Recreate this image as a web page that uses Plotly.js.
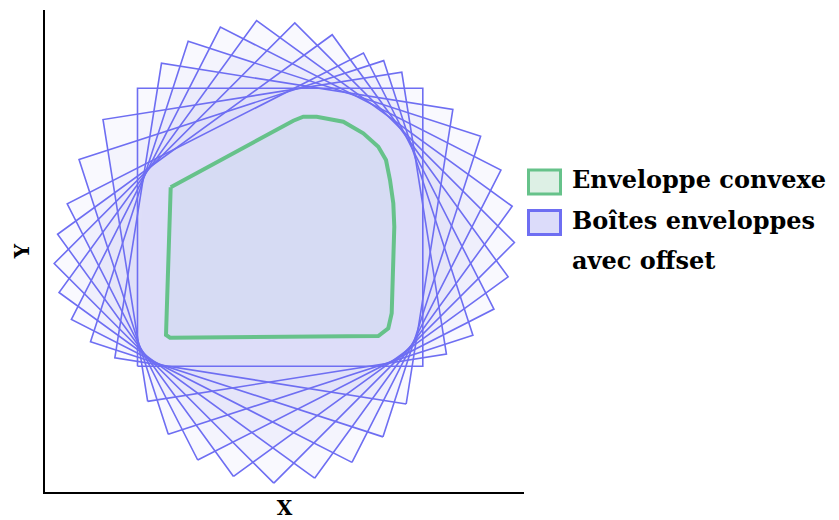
<!DOCTYPE html>
<html>
<head>
<meta charset="utf-8">
<script src="https://cdn.plot.ly/plotly-3.0.1.min.js"></script>
<style>html,body{margin:0;padding:0;background:#fff;}#chart{width:839px;height:520px;}</style>
</head>
<body>
<div id="chart"></div>
<script>
// Convex hull vertices (data units)
const hullX = [125.7, 248.3, 258.3, 271.7, 298.3, 318.3, 333.3, 341, 345, 348.3, 349.3, 346.7, 343.3, 333.3, 125, 121];
const hullY = [304.7, 371.3, 375.3, 375.3, 370.3, 358.7, 345.3, 332, 312, 288.7, 265.3, 178.7, 163.7, 156, 154.3, 157];
// Offset distance and rotation angles of the bounding boxes
const offsetRadius = 28.5;
const boxAnglesDeg = [0, 9, 18, 27, 36, 45, 54, 63, 72, 81];
// Legend labels and axis titles
const legendLabels = ["Enveloppe convexe", "Boîtes enveloppes", "avec offset"];
const axisTitles = {x: "X", y: "Y"};

const BLUE = "rgb(110,110,242)";
const GREEN = "rgb(102,194,138)";
const FONT = "DejaVu Serif";

function boxCorners(deg) {
  const t = deg * Math.PI / 180;
  const ux = Math.cos(t), uy = Math.sin(t), vx = -Math.sin(t), vy = Math.cos(t);
  let minU = Infinity, maxU = -Infinity, minV = Infinity, maxV = -Infinity;
  for (let i = 0; i < hullX.length; i++) {
    const pu = hullX[i] * ux + hullY[i] * uy;
    const pv = hullX[i] * vx + hullY[i] * vy;
    minU = Math.min(minU, pu); maxU = Math.max(maxU, pu);
    minV = Math.min(minV, pv); maxV = Math.max(maxV, pv);
  }
  const r = offsetRadius;
  const ab = [[minU - r, minV - r], [maxU + r, minV - r], [maxU + r, maxV + r], [minU - r, maxV + r], [minU - r, minV - r]];
  return {x: ab.map(p => p[0] * ux + p[1] * vx), y: ab.map(p => p[0] * uy + p[1] * vy)};
}

function offsetRegion() {
  const xs = [], ys = [];
  const n = 1440;
  for (let k = 0; k <= n; k++) {
    const t = 2 * Math.PI * k / n;
    const ux = Math.cos(t), uy = Math.sin(t);
    let best = -Infinity, bi = 0;
    for (let i = 0; i < hullX.length; i++) {
      const d = hullX[i] * ux + hullY[i] * uy;
      if (d > best) { best = d; bi = i; }
    }
    xs.push(hullX[bi] + offsetRadius * ux);
    ys.push(hullY[bi] + offsetRadius * uy);
  }
  return {x: xs, y: ys};
}

const traces = [];
const off = offsetRegion();
traces.push({type: "scatter", mode: "lines", x: off.x, y: off.y, fill: "toself",
  fillcolor: "rgba(215,215,250,0.15)", line: {width: 0, color: "rgba(0,0,0,0)"},
  hoverinfo: "skip", showlegend: false});
const boxes = boxAnglesDeg.map(boxCorners);
boxes.forEach(c => {
  traces.push({type: "scatter", mode: "lines", x: c.x, y: c.y, fill: "toself",
    fillcolor: "rgba(215,215,250,0.16)", line: {width: 0, color: "rgba(0,0,0,0)"},
    hoverinfo: "skip", showlegend: false});
});
boxes.forEach(c => {
  traces.push({type: "scatter", mode: "lines", x: c.x, y: c.y,
    line: {color: BLUE, width: 1.6}, hoverinfo: "skip", showlegend: false});
});
traces.push({type: "scatter", mode: "lines", x: hullX.concat([hullX[0]]), y: hullY.concat([hullY[0]]),
  fill: "toself", fillcolor: "rgba(102,194,138,0.05)", line: {color: GREEN, width: 4},
  hoverinfo: "skip", showlegend: false});

const layout = {
  width: 839, height: 520,
  margin: {l: 45, r: 315, t: 10, b: 28},
  paper_bgcolor: "#fff", plot_bgcolor: "#fff",
  showlegend: false,
  xaxis: {range: [0, 479], showgrid: false, zeroline: false, showticklabels: false, ticks: "",
    showline: true, linecolor: "#000", linewidth: 2,
    title: {text: "<b>" + axisTitles.x + "</b>", font: {family: FONT, size: 20, color: "#000"}, standoff: 13}},
  yaxis: {range: [0, 482], showgrid: false, zeroline: false, showticklabels: false, ticks: "",
    showline: true, linecolor: "#000", linewidth: 2,
    title: {text: "<b>" + axisTitles.y + "</b>", font: {family: FONT, size: 20, color: "#000"}, standoff: 8}},
  shapes: [
    {type: "rect", xref: "paper", yref: "paper", x0: (528.5 - 45) / 479, x1: (560.5 - 45) / 479,
      y0: (492 - 194) / 482, y1: (492 - 170) / 482,
      fillcolor: "rgb(221,240,229)", line: {color: GREEN, width: 3}},
    {type: "rect", xref: "paper", yref: "paper", x0: (528.5 - 45) / 479, x1: (560.5 - 45) / 479,
      y0: (492 - 234.5) / 482, y1: (492 - 210.5) / 482,
      fillcolor: "rgb(220,220,250)", line: {color: BLUE, width: 3}}
  ],
  annotations: legendLabels.map((t, i) => ({
    xref: "paper", yref: "paper", x: (570 - 45) / 479, y: (492 - (180 + 40 * i)) / 482,
    xanchor: "left", yanchor: "middle", showarrow: false,
    text: "<b>" + t + "</b>", font: {family: FONT, size: 24, color: "#000"}
  }))
};

Plotly.newPlot("chart", traces, layout, {displayModeBar: false, staticPlot: true});
</script>
</body>
</html>
